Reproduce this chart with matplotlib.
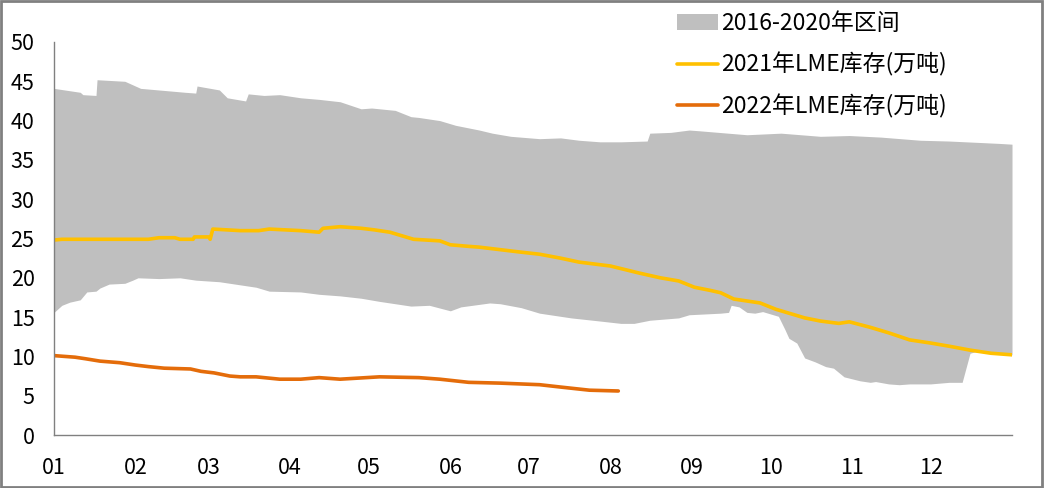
import matplotlib.pyplot as plt
import matplotlib.patches as patches
import numpy as np

plt.rcParams['font.family'] = ['Noto Sans CJK SC', 'DejaVu Sans']

# x positions are day-of-year
month_labels = ['01', '02', '03', '04', '05', '06', '07', '08', '09', '10', '11', '12']
month_starts = [0, 31, 59, 90, 120, 151, 181, 212, 243, 273, 304, 334]

# 2016-2020 range, upper edge
upper_days = [0, 10, 11, 16, 16.4, 27, 33, 50, 54, 54.5, 63, 66, 73, 74, 80, 86, 94, 101,
              109, 117, 121, 130, 136, 139, 147, 153, 162, 167, 174, 185, 193, 200, 208,
              216, 226, 227, 235, 242, 246, 264, 277, 292, 303, 315, 330, 341, 360, 365]
upper_vals = [44.1, 43.6, 43.3, 43.2, 45.2, 45.0, 44.1, 43.6, 43.5, 44.4, 43.9, 42.9, 42.5,
              43.4, 43.2, 43.3, 42.9, 42.7, 42.4, 41.5, 41.6, 41.3, 40.5, 40.4, 40.0, 39.4,
              38.8, 38.4, 38.0, 37.7, 37.8, 37.5, 37.3, 37.3, 37.4, 38.4, 38.5, 38.8, 38.7,
              38.2, 38.4, 38.0, 38.1, 37.9, 37.5, 37.4, 37.1, 37.0]

# 2016-2020 range, lower edge
lower_days = [0, 3, 6, 10, 12.5, 16, 17.5, 21, 27, 30, 32, 40, 48, 54, 63, 69, 77, 82, 94,
              101, 109, 117, 124, 136, 143, 151, 155, 166, 170, 178, 185, 197, 208, 216, 221,
              227, 238, 242, 254, 257, 258, 261, 264, 267, 270, 276, 278.5, 280, 283, 286,
              290, 294, 297, 301, 307, 311, 313, 318, 322, 326, 334, 341, 346, 349, 351,
              358, 365]
lower_vals = [15.6, 16.5, 16.9, 17.2, 18.2, 18.3, 18.7, 19.2, 19.3, 19.7, 20.0, 19.9, 20.0,
              19.7, 19.5, 19.2, 18.8, 18.3, 18.2, 17.9, 17.7, 17.4, 17.0, 16.4, 16.5, 15.8,
              16.3, 16.8, 16.7, 16.2, 15.5, 14.9, 14.5, 14.2, 14.2, 14.6, 14.9, 15.3, 15.5,
              15.6, 16.5, 16.3, 15.6, 15.5, 15.7, 15.1, 13.4, 12.3, 11.7, 9.8, 9.3, 8.7, 8.5,
              7.4, 6.9, 6.7, 6.8, 6.5, 6.4, 6.5, 6.5, 6.7, 6.7, 10.4, 10.6, 10.5, 10.2]

# 2021 LME stocks
days_2021 = [0, 3, 36, 40, 46, 48, 53, 53.5, 59, 59.5, 60.5, 71, 78, 82, 94, 101, 102.5,
             109, 113, 117, 122, 128, 132, 137, 147, 151, 158, 162, 177, 185, 193, 200, 212,
             223, 231, 238, 244, 250, 254, 259, 269, 275, 280, 286, 292, 299, 303, 311, 318,
             326, 334, 341, 349, 357, 365]
stock_2021 = [24.8, 24.9, 24.9, 25.1, 25.1, 24.9, 24.9, 25.2, 25.2, 24.9, 26.2, 26.0, 26.0,
              26.2, 26.0, 25.8, 26.3, 26.5, 26.4, 26.3, 26.1, 25.8, 25.4, 24.9, 24.7, 24.2,
              24.0, 23.9, 23.3, 23.0, 22.5, 22.0, 21.5, 20.6, 20.0, 19.6, 18.8, 18.4, 18.1,
              17.3, 16.8, 16.0, 15.5, 14.9, 14.5, 14.2, 14.4, 13.7, 13.0, 12.1, 11.7, 11.3,
              10.8, 10.4, 10.2]

# 2022 LME stocks
days_2022 = [0, 8, 12, 17.5, 25, 31, 36, 42, 52, 56, 61, 67, 71, 77, 86, 94, 101, 109, 124,
             139, 147, 158, 170, 185, 193, 204, 215]
stock_2022 = [10.1, 9.9, 9.7, 9.4, 9.2, 8.9, 8.7, 8.5, 8.4, 8.1, 7.9, 7.5, 7.4, 7.4, 7.1,
              7.1, 7.3, 7.1, 7.4, 7.3, 7.1, 6.7, 6.6, 6.4, 6.1, 5.7, 5.6]

fig = plt.figure(figsize=(10.44, 4.88), dpi=100)
ax = fig.add_axes([54 / 1044, 1 - 435 / 488, 958 / 1044, 393 / 488])

# band: common grid so fill_between can use both edges
grid = sorted(set(upper_days) | set(lower_days))
up = np.interp(grid, upper_days, upper_vals)
lo = np.interp(grid, lower_days, lower_vals)
ax.fill_between(grid, lo, up, color='#BFBFBF', linewidth=0, label='2016-2020年区间')

ax.plot(days_2021, stock_2021, color='#FFC000', lw=2.6, solid_capstyle='round',
        label='2021年LME库存(万吨)')
ax.plot(days_2022, stock_2022, color='#E46C0A', lw=2.6, solid_capstyle='round',
        label='2022年LME库存(万吨)')

ax.set_xlim(0, 365)
ax.set_ylim(0, 50)
ax.set_yticks(range(0, 51, 5))
ax.set_xticks(month_starts)
ax.set_xticklabels(month_labels)
ax.tick_params(length=0, labelsize=15.5)
ax.tick_params(axis='x', pad=16)
ax.tick_params(axis='y', pad=14)
for s in ['top', 'right']:
    ax.spines[s].set_visible(False)
for s in ['left', 'bottom']:
    ax.spines[s].set_color('#808080')
    ax.spines[s].set_linewidth(1)

fig.legend(loc='upper left', bbox_to_anchor=(668 / 1044, 1 - 3 / 488), frameon=False,
           fontsize=16.5, handlelength=1.8, handletextpad=0.1, labelspacing=0.75,
           borderaxespad=0)

fig.patches.append(patches.Rectangle((0.001, 0.002), 0.997, 0.995, transform=fig.transFigure,
                                     fill=False, edgecolor='#808080', linewidth=2))

fig.savefig('out.png', dpi=100)
